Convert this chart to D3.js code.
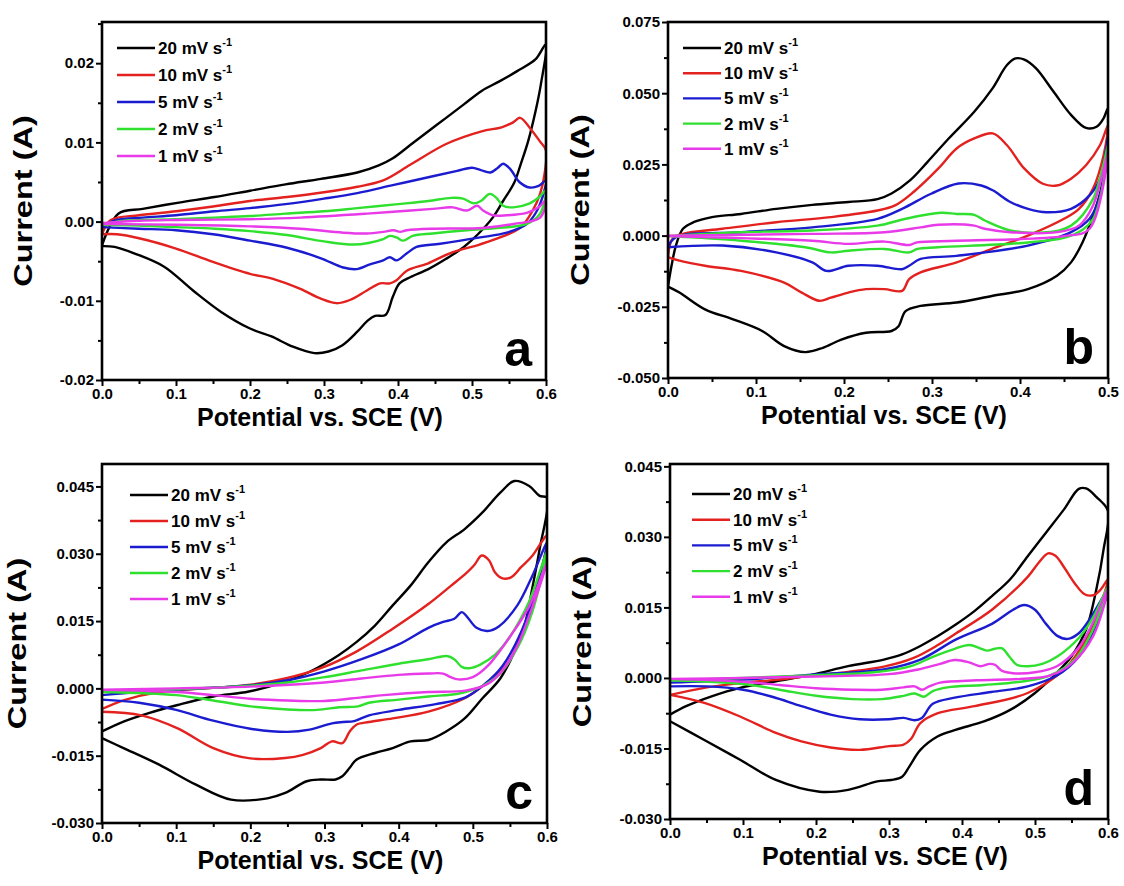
<!DOCTYPE html>
<html lang="en">
  <head>
    <meta charset="utf-8" />
    <title>CV curves</title>
    <script type="text/javascript" src="https://d3js.org/d3.v7.min.js"></script>
    <style>
      body { margin: 0; background: #fff; }
      svg text { font-family: "Liberation Sans", Arial, sans-serif; font-weight: bold; fill: #000; }
    </style>
  </head>
  <body>
    <div id="chart"></div>
    <script type="text/javascript">
      /********************************
       * data: [potential (V), current (A)], forward sweep then reverse sweep
       ********************************/
      const rates = ["20", "10", "5", "2", "1"];
      const colors = ["#000000", "#e3211f", "#1b1bd0", "#2fe02f", "#e83ae8"];

      // panel a
      const a20 = [[0,-0.003],[0.022,0.001],[0.055,0.0016],[0.104,0.0024],[0.152,0.0031],[0.2,0.0039],[0.248,0.0047],[0.296,0.0054],[0.345,0.0062],[0.374,0.0071],[0.393,0.008],[0.417,0.0097],[0.441,0.0114],[0.465,0.0131],[0.489,0.0148],[0.513,0.0165],[0.537,0.0177],[0.561,0.019],[0.586,0.0205],[0.6,0.0224],
        [0.593,0.0173],[0.586,0.014],[0.576,0.0102],[0.566,0.0073],[0.557,0.0049],[0.542,0.0026],[0.528,0.0005],[0.508,-0.0016],[0.489,-0.0032],[0.465,-0.0047],[0.441,-0.006],[0.417,-0.007],[0.402,-0.0078],[0.393,-0.0095],[0.383,-0.0118],[0.369,-0.0119],[0.359,-0.0125],[0.345,-0.0139],[0.325,-0.0156],[0.306,-0.0164],[0.287,-0.0166],[0.258,-0.0158],[0.229,-0.0145],[0.2,-0.0135],[0.161,-0.0114],[0.123,-0.0087],[0.084,-0.0057],[0.046,-0.0041],[0.017,-0.0032],[0,-0.0031]];
      const a10 = [[0,-0.0016],[0.012,0.0002],[0.05,0.0008],[0.1,0.0013],[0.15,0.0019],[0.2,0.0026],[0.25,0.0031],[0.3,0.0037],[0.345,0.0044],[0.38,0.0052],[0.417,0.0072],[0.465,0.0098],[0.513,0.0114],[0.54,0.0119],[0.555,0.0125],[0.565,0.0131],[0.58,0.0116],[0.592,0.0101],[0.6,0.009],
        [0.598,0.006],[0.592,0.0035],[0.582,0.0014],[0.565,-0.0008],[0.538,-0.002],[0.51,-0.0029],[0.47,-0.004],[0.44,-0.0053],[0.412,-0.0062],[0.398,-0.0074],[0.389,-0.0078],[0.376,-0.0078],[0.358,-0.0087],[0.335,-0.0099],[0.317,-0.0103],[0.295,-0.0097],[0.268,-0.0085],[0.23,-0.0072],[0.2,-0.0066],[0.15,-0.0051],[0.1,-0.0034],[0.05,-0.0021],[0.02,-0.0016],[0,-0.0016]];
      const a5 = [[0,-0.0006],[0.02,0.0002],[0.055,0.0005],[0.1,0.0008],[0.152,0.0013],[0.2,0.0017],[0.248,0.0022],[0.3,0.0029],[0.345,0.0036],[0.393,0.0046],[0.441,0.0056],[0.48,0.0064],[0.5,0.0068],[0.512,0.0065],[0.525,0.0062],[0.535,0.0068],[0.542,0.0073],[0.552,0.0066],[0.564,0.005],[0.578,0.0043],[0.59,0.0045],[0.6,0.0052],
        [0.598,0.004],[0.588,0.0014],[0.574,-0.0003],[0.547,-0.0014],[0.511,-0.002],[0.457,-0.0028],[0.425,-0.0032],[0.412,-0.004],[0.398,-0.0049],[0.389,-0.0045],[0.38,-0.0049],[0.362,-0.0054],[0.344,-0.006],[0.326,-0.0058],[0.295,-0.0046],[0.25,-0.0033],[0.2,-0.0024],[0.15,-0.0016],[0.1,-0.0011],[0.05,-0.0009],[0,-0.0007]];
      const a2 = [[0,-0.0004],[0.03,0.0001],[0.1,0.0003],[0.152,0.0005],[0.2,0.0007],[0.248,0.001],[0.3,0.0013],[0.345,0.0017],[0.4,0.0022],[0.441,0.0026],[0.472,0.003],[0.488,0.0029],[0.502,0.0023],[0.512,0.0026],[0.524,0.0035],[0.533,0.003],[0.542,0.002],[0.556,0.0018],[0.578,0.0023],[0.592,0.0032],[0.6,0.004],
        [0.592,0.001],[0.574,-0.0003],[0.538,-0.0008],[0.493,-0.0011],[0.447,-0.0015],[0.42,-0.0018],[0.407,-0.0024],[0.398,-0.002],[0.389,-0.0018],[0.38,-0.0022],[0.36,-0.0027],[0.34,-0.0029],[0.3,-0.0025],[0.25,-0.0017],[0.2,-0.0012],[0.152,-0.0009],[0.1,-0.0007],[0.05,-0.0005],[0,-0.0004]];
      const a1 = [[0,-0.0002],[0.05,0.0001],[0.1,0.0002],[0.2,0.0003],[0.268,0.0005],[0.358,0.001],[0.403,0.0013],[0.447,0.0016],[0.474,0.0018],[0.493,0.0014],[0.507,0.002],[0.515,0.0014],[0.528,0.0008],[0.547,0.0008],[0.574,0.0011],[0.59,0.0018],[0.6,0.0027],
        [0.592,0.0005],[0.556,-0.0003],[0.515,-0.0008],[0.447,-0.0009],[0.412,-0.0011],[0.403,-0.0013],[0.394,-0.0011],[0.38,-0.0013],[0.358,-0.0015],[0.326,-0.0014],[0.268,-0.0009],[0.2,-0.0006],[0.1,-0.0004],[0,-0.0003]];

      // panel b
      const b20 = [[0,-0.0179],[0.004,-0.0106],[0.009,-0.0035],[0.017,0.0024],[0.029,0.0047],[0.05,0.0065],[0.083,0.0076],[0.123,0.0094],[0.164,0.0108],[0.205,0.0118],[0.238,0.0128],[0.254,0.0148],[0.275,0.0194],[0.295,0.0259],[0.319,0.0341],[0.348,0.0435],[0.369,0.0518],[0.385,0.0598],[0.395,0.0622],[0.405,0.0618],[0.418,0.0588],[0.438,0.0506],[0.458,0.0424],[0.475,0.0378],[0.487,0.0382],[0.495,0.0412],[0.5,0.0447],
        [0.493,0.0176],[0.483,0.0071],[0.471,-0.0024],[0.458,-0.0094],[0.442,-0.0141],[0.409,-0.0188],[0.368,-0.0212],[0.328,-0.0235],[0.287,-0.0247],[0.27,-0.0265],[0.262,-0.0318],[0.254,-0.0335],[0.225,-0.0341],[0.197,-0.0365],[0.176,-0.0394],[0.156,-0.0409],[0.132,-0.0388],[0.107,-0.0335],[0.074,-0.0294],[0.042,-0.0259],[0.013,-0.02],[0,-0.0179]];
      const b10 = [[0,-0.0076],[0.005,-0.0012],[0.017,0.0006],[0.062,0.0024],[0.123,0.0047],[0.185,0.0065],[0.238,0.0088],[0.258,0.0106],[0.279,0.0153],[0.307,0.0235],[0.328,0.0306],[0.348,0.0341],[0.369,0.0359],[0.385,0.0318],[0.405,0.0235],[0.426,0.0182],[0.442,0.0176],[0.458,0.02],[0.475,0.0247],[0.491,0.0318],[0.5,0.0388],
        [0.495,0.0282],[0.483,0.0165],[0.467,0.0094],[0.45,0.0059],[0.409,0],[0.368,-0.0047],[0.328,-0.0094],[0.287,-0.0129],[0.274,-0.0153],[0.266,-0.0194],[0.246,-0.0188],[0.225,-0.0188],[0.205,-0.02],[0.185,-0.0218],[0.172,-0.0229],[0.152,-0.02],[0.132,-0.0165],[0.083,-0.0124],[0.042,-0.0106],[0.013,-0.0088],[0,-0.0076]];
      const b5 = [[0,-0.0041],[0.009,-0.0006],[0.083,0.0012],[0.164,0.0029],[0.238,0.0059],[0.266,0.0094],[0.299,0.0147],[0.33,0.0183],[0.356,0.0176],[0.369,0.0159],[0.389,0.0118],[0.409,0.0094],[0.43,0.0082],[0.458,0.0094],[0.479,0.0141],[0.491,0.02],[0.5,0.0347],
        [0.491,0.0141],[0.479,0.0059],[0.458,0.0012],[0.409,-0.0035],[0.328,-0.0071],[0.287,-0.0082],[0.274,-0.0106],[0.266,-0.0118],[0.238,-0.0106],[0.205,-0.0106],[0.18,-0.0124],[0.164,-0.0094],[0.123,-0.0059],[0.062,-0.0035],[0,-0.0041]];
      const b2 = [[0,-0.0002],[0.083,0.0012],[0.164,0.0018],[0.238,0.0035],[0.27,0.0059],[0.31,0.008],[0.328,0.0076],[0.348,0.0073],[0.36,0.0053],[0.389,0.0018],[0.43,0.0012],[0.458,0.0035],[0.483,0.0129],[0.5,0.0318],
        [0.483,0.0059],[0.458,0],[0.409,-0.0024],[0.307,-0.0041],[0.283,-0.0047],[0.274,-0.0059],[0.246,-0.0047],[0.205,-0.0053],[0.185,-0.0059],[0.156,-0.0041],[0.083,-0.0018],[0,-0.0002]];
      const b1 = [[0,0],[0.164,0.0006],[0.246,0.0012],[0.287,0.0029],[0.307,0.0038],[0.348,0.0035],[0.36,0.0024],[0.389,0.0012],[0.442,0.0012],[0.467,0.0035],[0.483,0.0106],[0.5,0.0294],
        [0.479,0.0024],[0.45,-0.0002],[0.328,-0.0018],[0.283,-0.0024],[0.274,-0.0033],[0.246,-0.0021],[0.205,-0.0029],[0.164,-0.0018],[0.083,-0.0009],[0,-0.0002]];

      // panel c
      const c20 = [[0,-0.0096],[0.029,-0.0074],[0.063,-0.0055],[0.102,-0.0037],[0.15,-0.0018],[0.198,-0.0007],[0.247,0.0015],[0.28,0.0037],[0.319,0.0074],[0.343,0.0103],[0.368,0.014],[0.392,0.0185],[0.416,0.0229],[0.44,0.0281],[0.464,0.0325],[0.489,0.0355],[0.513,0.0392],[0.537,0.0436],[0.556,0.0462],[0.576,0.0451],[0.59,0.0429],[0.6,0.0425],
        [0.59,0.031],[0.58,0.0222],[0.571,0.0148],[0.556,0.0081],[0.537,0.0022],[0.513,-0.0022],[0.489,-0.0067],[0.464,-0.0096],[0.44,-0.0115],[0.416,-0.0118],[0.392,-0.0133],[0.368,-0.0144],[0.343,-0.0159],[0.334,-0.0177],[0.324,-0.0196],[0.315,-0.0203],[0.295,-0.0203],[0.276,-0.0207],[0.247,-0.0233],[0.223,-0.0245],[0.174,-0.0248],[0.126,-0.0214],[0.077,-0.017],[0.029,-0.0133],[0,-0.0111]];
      const c10 = [[0,-0.0046],[0.03,-0.0026],[0.077,-0.0008],[0.15,0.0001],[0.2,0.0008],[0.247,0.0022],[0.295,0.0045],[0.343,0.0082],[0.392,0.0133],[0.44,0.0188],[0.47,0.0228],[0.49,0.0255],[0.502,0.0275],[0.512,0.0296],[0.522,0.0285],[0.53,0.0258],[0.54,0.0245],[0.552,0.0248],[0.565,0.027],[0.58,0.0295],[0.6,0.034],
        [0.585,0.0214],[0.561,0.0096],[0.537,0.0037],[0.513,0.0005],[0.489,-0.0022],[0.44,-0.0052],[0.392,-0.0067],[0.36,-0.0075],[0.343,-0.0081],[0.334,-0.0096],[0.324,-0.0122],[0.31,-0.0118],[0.295,-0.0133],[0.271,-0.0148],[0.247,-0.0155],[0.2,-0.0156],[0.15,-0.0133],[0.102,-0.0089],[0.053,-0.006],[0,-0.0052]];
      const c5 = [[0,-0.0015],[0.05,-0.0008],[0.1,-0.0003],[0.2,0.0007],[0.25,0.0018],[0.3,0.0038],[0.35,0.0065],[0.4,0.0098],[0.44,0.0135],[0.46,0.0148],[0.475,0.0155],[0.485,0.017],[0.492,0.016],[0.505,0.0135],[0.52,0.0128],[0.535,0.0138],[0.56,0.0185],[0.58,0.025],[0.6,0.0325],
        [0.585,0.022],[0.565,0.0125],[0.54,0.005],[0.515,0.0008],[0.49,-0.002],[0.45,-0.0035],[0.4,-0.0048],[0.36,-0.006],[0.34,-0.0073],[0.325,-0.0075],[0.31,-0.0078],[0.28,-0.0092],[0.25,-0.0097],[0.2,-0.009],[0.15,-0.0072],[0.1,-0.0048],[0.05,-0.0032],[0,-0.0025]];
      const c2 = [[0,-0.0008],[0.1,-0.0002],[0.2,0.0006],[0.25,0.0013],[0.3,0.0025],[0.35,0.004],[0.4,0.0055],[0.44,0.0065],[0.465,0.0072],[0.475,0.0065],[0.485,0.0048],[0.495,0.0045],[0.51,0.0053],[0.53,0.0075],[0.55,0.0115],[0.575,0.019],[0.6,0.0305],
        [0.58,0.017],[0.56,0.009],[0.535,0.003],[0.51,0.0003],[0.48,-0.0012],[0.44,-0.0018],[0.4,-0.0025],[0.36,-0.0032],[0.345,-0.004],[0.32,-0.0042],[0.29,-0.0048],[0.25,-0.0047],[0.2,-0.004],[0.15,-0.0027],[0.1,-0.0015],[0,-0.0008]];
      const c1 = [[0,-0.0003],[0.1,0],[0.2,0.0004],[0.3,0.0013],[0.35,0.0022],[0.4,0.003],[0.44,0.0033],[0.46,0.0033],[0.47,0.0025],[0.48,0.002],[0.5,0.0025],[0.52,0.005],[0.55,0.0115],[0.575,0.018],[0.6,0.028],
        [0.58,0.018],[0.56,0.0095],[0.54,0.004],[0.52,0.001],[0.49,-0.0005],[0.44,-0.0008],[0.38,-0.0015],[0.35,-0.002],[0.3,-0.0028],[0.25,-0.0027],[0.2,-0.0023],[0.15,-0.0015],[0.1,-0.0008],[0,-0.0003]];

      // panel d
      const d20 = [[0,-0.0078],[0.022,-0.006],[0.057,-0.0039],[0.096,-0.0021],[0.145,-0.0007],[0.195,0.0007],[0.244,0.0025],[0.293,0.0039],[0.318,0.005],[0.343,0.0068],[0.367,0.0089],[0.392,0.0114],[0.417,0.0142],[0.441,0.0174],[0.466,0.021],[0.49,0.0259],[0.515,0.0309],[0.54,0.0359],[0.56,0.0402],[0.57,0.0403],[0.584,0.0385],[0.6,0.0355],
        [0.594,0.0274],[0.584,0.0188],[0.57,0.0103],[0.55,0.0046],[0.53,0.0011],[0.5,-0.0032],[0.466,-0.0068],[0.431,-0.0092],[0.392,-0.011],[0.367,-0.0124],[0.343,-0.0153],[0.328,-0.0188],[0.318,-0.021],[0.303,-0.0217],[0.284,-0.022],[0.244,-0.0238],[0.205,-0.0242],[0.145,-0.0217],[0.096,-0.0174],[0.047,-0.0132],[0,-0.0092]];
      const d10 = [[0,-0.0036],[0.047,-0.0021],[0.096,-0.0011],[0.145,-0.0004],[0.195,0.0005],[0.244,0.0013],[0.293,0.0024],[0.333,0.0042],[0.367,0.007],[0.392,0.0095],[0.441,0.0145],[0.49,0.0215],[0.505,0.0245],[0.518,0.0265],[0.528,0.026],[0.54,0.0235],[0.555,0.02],[0.568,0.0178],[0.58,0.0176],[0.59,0.0188],[0.6,0.021],
        [0.585,0.0135],[0.57,0.0082],[0.54,0.0018],[0.49,-0.0032],[0.417,-0.006],[0.367,-0.0075],[0.343,-0.0096],[0.33,-0.013],[0.32,-0.0142],[0.3,-0.0145],[0.26,-0.0153],[0.22,-0.0148],[0.18,-0.0135],[0.145,-0.0117],[0.096,-0.0082],[0.047,-0.0053],[0,-0.0036]];
      const d5 = [[0,-0.001],[0.096,-0.0004],[0.195,0.0007],[0.293,0.0018],[0.343,0.0039],[0.392,0.0082],[0.441,0.0115],[0.47,0.0145],[0.485,0.0155],[0.5,0.0145],[0.515,0.0115],[0.53,0.009],[0.545,0.0083],[0.56,0.0095],[0.575,0.0125],[0.6,0.0188],
        [0.58,0.01],[0.56,0.0045],[0.53,0.0005],[0.49,-0.0018],[0.44,-0.003],[0.39,-0.0042],[0.36,-0.0055],[0.345,-0.0085],[0.335,-0.009],[0.32,-0.0085],[0.3,-0.0088],[0.26,-0.0088],[0.22,-0.0078],[0.18,-0.006],[0.14,-0.004],[0.1,-0.0025],[0.05,-0.0018],[0,-0.0018]];
      const d2 = [[0,-0.0005],[0.1,0],[0.2,0.0006],[0.28,0.0012],[0.33,0.0025],[0.36,0.0045],[0.39,0.0062],[0.41,0.007],[0.425,0.0063],[0.435,0.0058],[0.445,0.0062],[0.455,0.0063],[0.465,0.0045],[0.475,0.0028],[0.49,0.0025],[0.51,0.003],[0.53,0.0045],[0.56,0.0085],[0.58,0.013],[0.6,0.0195],
        [0.58,0.0105],[0.555,0.004],[0.52,0.0005],[0.48,-0.0008],[0.43,-0.0015],[0.38,-0.002],[0.36,-0.0028],[0.348,-0.004],[0.335,-0.0033],[0.32,-0.0038],[0.29,-0.0045],[0.25,-0.0045],[0.2,-0.0038],[0.15,-0.0025],[0.1,-0.0013],[0,-0.0005]];
      const d1 = [[0,-0.0002],[0.1,0],[0.2,0.0003],[0.3,0.0008],[0.34,0.0018],[0.37,0.003],[0.39,0.0038],[0.41,0.0033],[0.425,0.0025],[0.438,0.003],[0.445,0.0028],[0.455,0.0015],[0.47,0.001],[0.5,0.0012],[0.53,0.0025],[0.56,0.0065],[0.58,0.012],[0.6,0.019],
        [0.58,0.009],[0.55,0.003],[0.52,0.0005],[0.48,-0.0002],[0.42,-0.0005],[0.37,-0.001],[0.355,-0.0018],[0.345,-0.0025],[0.335,-0.0018],[0.32,-0.002],[0.29,-0.0025],[0.25,-0.0025],[0.2,-0.0022],[0.15,-0.0015],[0.1,-0.0008],[0,-0.0002]];

      /***************************
       * panel layout
       **************************/
      const panels = [
        { tag: "a", box: { l: 102, r: 546, t: 22, b: 380 }, xMax: 0.6, yDom: [-0.02, 0.0252], yStep: 0.01, yFmt: ".2f", leg: [15, 26, 27], yTitle: 70, series: [a20, a10, a5, a2, a1] },
        { tag: "b", box: { l: 668, r: 1108, t: 22, b: 378 }, xMax: 0.5, yDom: [-0.05, 0.075], yStep: 0.025, yFmt: ".3f", leg: [15, 26, 25.2], yTitle: 79, series: [b20, b10, b5, b2, b1] },
        { tag: "c", box: { l: 102, r: 547, t: 464, b: 823 }, xMax: 0.6, yDom: [-0.03, 0.05], yStep: 0.015, yFmt: ".3f", leg: [28, 31, 26], yTitle: 76, series: [c20, c10, c5, c2, c1] },
        { tag: "d", box: { l: 670, r: 1108, t: 464, b: 819 }, xMax: 0.6, yDom: [-0.03, 0.0455], yStep: 0.015, yFmt: ".3f", leg: [22, 30, 25.7], yTitle: 79, series: [d20, d10, d5, d2, d1] },
      ];

      const width = 1124;
      const height = 886;

      const svg = d3
        .select("#chart")
        .append("svg")
        .attr("width", width)
        .attr("height", height);

      const hyphen = (f) => (v) => d3.format(f)(Math.abs(v) < 1e-9 ? 0 : v).replace("\u2212", "-");

      panels.forEach((p) => {
        const { l, r, t, b } = p.box;

        const x = d3.scaleLinear().domain([0, p.xMax]).range([l, r]);
        const y = d3.scaleLinear().domain(p.yDom).range([b, t]);

        const g = svg.append("g");

        // clip
        g.append("clipPath")
          .attr("id", "clip-" + p.tag)
          .append("rect")
          .attr("x", l)
          .attr("y", t)
          .attr("width", r - l)
          .attr("height", b - t);

        // ticks
        const n = Math.round(p.xMax / 0.1);
        const xMajor = d3.range(0, n + 1).map((k) => k * 0.1);
        const xMinor = d3.range(0, n).map((k) => k * 0.1 + 0.05);
        const yMajor = [];
        const yMinor = [];
        for (let k = -10; k <= 10; k++) {
          const v = k * p.yStep;
          if (v >= p.yDom[0] - 1e-9 && v <= p.yDom[1] + 1e-9) yMajor.push(v);
          const m = v + p.yStep / 2;
          if (m >= p.yDom[0] && m <= p.yDom[1]) yMinor.push(m);
        }

        const axisStyle = (sel) => {
          sel.select(".domain").remove();
          sel.selectAll("line").attr("stroke", "#000").attr("stroke-width", 2);
          sel.selectAll("text").attr("font-size", 15).attr("fill", "#000");
          sel.attr("font-family", null);
        };

        g.append("g")
          .attr("transform", `translate(0,${b})`)
          .call(d3.axisBottom(x).tickValues(xMajor).tickSize(6).tickPadding(2).tickFormat(hyphen(".1f")))
          .call(axisStyle);
        g.append("g")
          .attr("transform", `translate(0,${b})`)
          .call(d3.axisBottom(x).tickValues(xMinor).tickSize(4).tickFormat(""))
          .call(axisStyle);
        g.append("g")
          .attr("transform", `translate(${l},0)`)
          .call(d3.axisLeft(y).tickValues(yMajor).tickSize(6).tickPadding(2).tickFormat(hyphen(p.yFmt)))
          .call(axisStyle);
        g.append("g")
          .attr("transform", `translate(${l},0)`)
          .call(d3.axisLeft(y).tickValues(yMinor).tickSize(4).tickFormat(""))
          .call(axisStyle);

        // curves
        const line = d3
          .line()
          .x((d) => x(d[0]))
          .y((d) => y(d[1]))
          .curve(d3.curveCatmullRom.alpha(0.5));

        const curves = g.append("g").attr("clip-path", `url(#clip-${p.tag})`);
        p.series.forEach((s, k) => {
          curves
            .append("path")
            .datum(s)
            .attr("d", line)
            .attr("fill", "none")
            .attr("stroke", colors[k])
            .attr("stroke-width", 2.4)
            .attr("stroke-linejoin", "round");
        });

        // frame
        g.append("rect")
          .attr("x", l)
          .attr("y", t)
          .attr("width", r - l)
          .attr("height", b - t)
          .attr("fill", "none")
          .attr("stroke", "#000")
          .attr("stroke-width", 2.6);

        // legend
        const leg = g.append("g").attr("transform", `translate(${l + p.leg[0]},${t + p.leg[1]})`);
        rates.forEach((rate, k) => {
          const row = leg.append("g").attr("transform", `translate(0,${k * p.leg[2]})`);
          row.append("line")
            .attr("x1", 0)
            .attr("x2", 38)
            .attr("stroke", colors[k])
            .attr("stroke-width", 2.4);
          const txt = row.append("text").attr("x", 41).attr("y", 6).attr("font-size", 17);
          txt.append("tspan").text(`${rate} mV s`);
          txt.append("tspan").attr("font-size", 11).attr("dy", -8).text("-1");
        });

        // panel letter
        g.append("text")
          .attr("x", r - 14)
          .attr("y", b - 14)
          .attr("text-anchor", "end")
          .attr("font-size", 50)
          .text(p.tag);

        // axis titles
        g.append("text")
          .attr("x", (l + r) / 2 - 4)
          .attr("y", b + 46)
          .attr("text-anchor", "middle")
          .attr("font-size", 25)
          .text("Potential vs. SCE (V)");

        g.append("text")
          .attr("transform", `translate(${l - p.yTitle},${(t + b) / 2}) rotate(-90) scale(1.3,1)`)
          .attr("text-anchor", "middle")
          .attr("font-size", 25)
          .text("Current (A)");
      });
    </script>
  </body>
</html>
